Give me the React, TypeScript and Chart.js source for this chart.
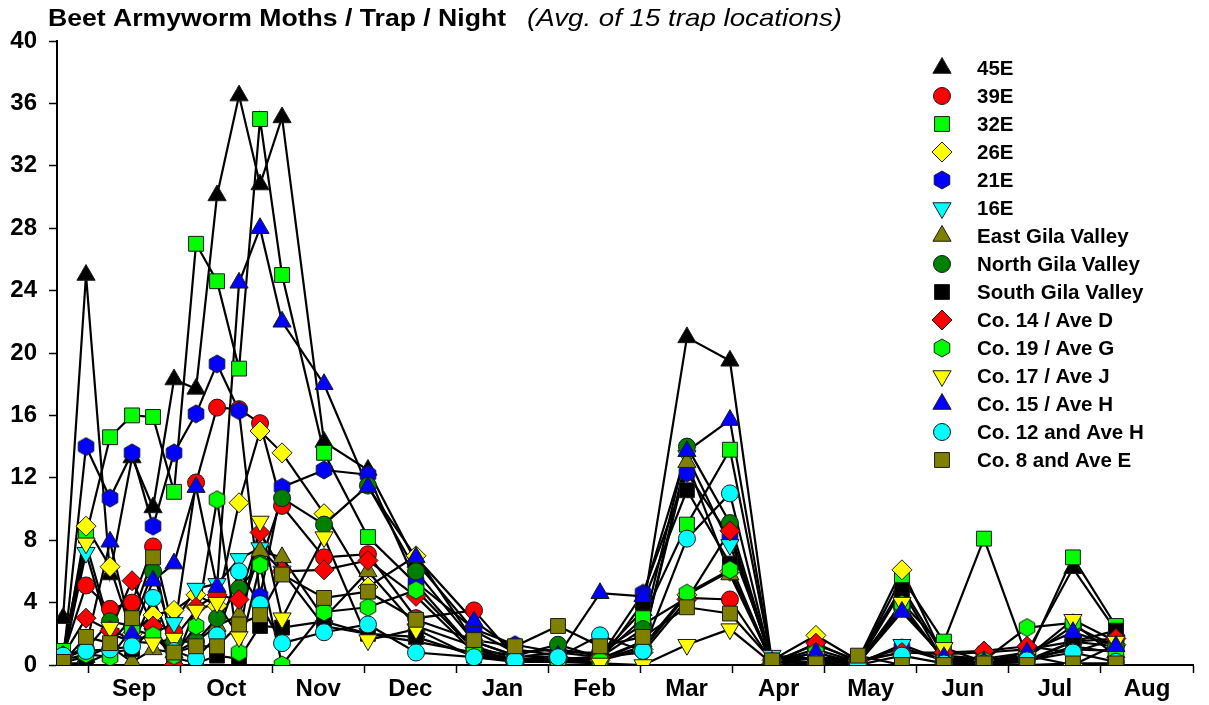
import React, { useEffect, useRef } from 'react';
import { Chart, registerables } from 'chart.js';
import { drawPoint } from 'chart.js/helpers';

Chart.register(...registerables);

// ---------------- data ----------------
const TITLE_MAIN = 'Beet Armyworm Moths / Trap / Night';
const TITLE_NOTE = '(Avg. of 15 trap locations)';

const MONTHS = ['Sep', 'Oct', 'Nov', 'Dec', 'Jan', 'Feb', 'Mar', 'Apr', 'May', 'Jun', 'Jul', 'Aug'];
const Y_MIN = 0;
const Y_MAX = 40;
const Y_STEP = 4;

// sample dates expressed in months after Sep 1 (each month = 1 unit)
const SAMPLE_X = [
  -0.271, -0.022, 0.239, 0.478, 0.706, 0.934, 1.173, 1.401, 1.64, 1.868,
  2.107, 2.563, 3.04, 3.562, 4.192, 4.637, 5.104, 5.56, 6.027, 6.504,
  6.971, 7.428, 7.905, 8.361, 8.839, 9.295, 9.73, 10.197, 10.696, 11.163,
];

const NAMES = [
  '45E', '39E', '32E', '26E', '21E', '16E', 'East Gila Valley', 'North Gila Valley',
  'South Gila Valley', 'Co. 14 / Ave D', 'Co. 19 / Ave G', 'Co. 17 / Ave J',
  'Co. 15 / Ave H', 'Co. 12 and Ave H', 'Co. 8 and Ave E',
];

const V_45E = [3.0, 25.0, 5.8, 13.3, 10.1, 18.3, 17.7, 30.1, 36.5, 30.8, 35.1, 14.3, 12.5, 6.6, 2.2, 0.8, 1.0, 0.6, 3.5, 21.0, 19.5, 0.2, 0.5, 0.3, 5.0, 0.6, 0.4, 0.8, 6.2, 2.2];
const V_39E = [0.6, 5.1, 3.6, 4.0, 7.6, 2.1, 11.7, 16.5, 16.4, 15.5, 10.2, 6.9, 7.1, 3.0, 3.5, 0.5, 0.8, 0.8, 2.6, 4.3, 4.2, 0.2, 1.3, 0.3, 0.8, 0.7, 0.8, 1.0, 1.5, 1.7];
const V_32E = [0.9, 8.3, 14.6, 16.0, 15.9, 11.1, 27.0, 24.6, 19.0, 35.0, 25.0, 13.6, 8.2, 5.2, 1.0, 0.6, 0.4, 0.5, 3.0, 9.0, 13.8, 0.2, 0.5, 0.2, 5.6, 1.5, 8.1, 0.5, 6.9, 2.5];
const V_26E = [0.4, 8.9, 6.3, 2.0, 3.2, 3.5, 4.5, 3.8, 10.4, 15.0, 13.6, 9.7, 5.0, 7.0, 1.5, 0.6, 0.5, 0.3, 1.0, 4.5, 6.0, 0.3, 1.9, 0.3, 6.1, 0.5, 0.3, 0.6, 0.0, 1.3];
const V_21E = [0.3, 14.0, 10.7, 13.6, 8.9, 13.6, 16.1, 19.3, 16.3, 4.4, 11.4, 12.5, 12.2, 5.3, 2.3, 1.3, 0.8, 0.5, 4.6, 12.3, 8.2, 0.2, 0.5, 0.2, 1.1, 0.3, 0.2, 0.3, 1.5, 1.2];
const V_16E = [0.3, 7.2, 2.0, 1.5, 2.0, 2.7, 4.9, 5.2, 6.8, 7.5, 6.0, 2.5, 2.0, 1.5, 0.8, 0.4, 0.3, 0.4, 1.5, 13.4, 7.7, 0.6, 0.4, 0.1, 1.3, 0.3, 0.2, 0.4, 1.0, 0.9];
const V_EGV = [0.2, 0.5, 1.2, 0.2, 1.0, 0.8, 1.5, 2.5, 3.2, 7.3, 6.9, 3.0, 6.0, 2.5, 1.2, 0.4, 0.3, 0.3, 1.5, 13.0, 5.8, 0.2, 0.4, 0.1, 3.6, 0.4, 0.1, 0.2, 1.2, 0.8];
const V_NGV = [0.4, 1.0, 2.8, 2.5, 6.0, 1.5, 1.5, 3.0, 4.9, 6.5, 10.7, 9.0, 11.5, 6.0, 1.5, 0.6, 1.3, 0.5, 2.3, 14.0, 9.1, 0.2, 1.0, 0.2, 3.7, 0.4, 0.3, 0.5, 2.5, 1.2];
const V_SGV = [0.1, 0.1, 0.8, 1.0, 2.4, 0.5, 0.1, 0.6, 0.4, 2.5, 2.4, 2.8, 2.0, 1.8, 0.6, 0.3, 0.2, 0.2, 4.0, 11.2, 6.5, 0.1, 0.2, 0.1, 4.8, 0.2, 0.1, 0.2, 1.5, 2.2];
const V_CO14 = [0.6, 3.0, 2.2, 5.4, 2.5, 0.0, 3.7, 4.5, 4.2, 8.5, 6.0, 6.1, 6.7, 4.4, 0.8, 0.2, 0.4, 0.5, 0.8, 4.2, 8.6, 0.1, 1.4, 0.2, 0.8, 0.8, 0.9, 1.2, 0.8, 1.7];
const V_CO19 = [0.3, 0.7, 0.5, 2.3, 1.9, 0.6, 2.5, 10.6, 0.8, 6.4, 0.0, 3.4, 3.7, 4.8, 1.0, 0.3, 0.3, 0.3, 1.2, 4.6, 6.1, 0.1, 0.8, 0.1, 3.9, 0.3, 0.3, 2.4, 2.7, 0.6];
const V_CO17 = [0.2, 7.8, 2.4, 1.5, 1.4, 1.7, 3.5, 4.0, 1.8, 9.2, 3.0, 8.2, 1.6, 2.3, 0.5, 0.2, 0.2, 0.1, 0.0, 1.3, 2.3, 0.1, 0.5, 0.1, 4.0, 1.1, 0.2, 0.5, 2.9, 1.5];
const V_CO15 = [0.4, 1.2, 7.9, 2.0, 5.4, 6.5, 11.4, 5.0, 24.5, 28.0, 22.0, 18.0, 11.4, 6.9, 2.8, 1.0, 0.6, 4.6, 4.4, 13.7, 15.7, 0.2, 0.8, 0.1, 3.4, 0.5, 0.2, 0.8, 2.1, 1.2];
const V_CO12 = [0.6, 0.9, 1.0, 1.2, 4.3, 0.9, 0.4, 1.9, 6.0, 3.9, 1.4, 2.1, 2.6, 0.8, 0.5, 0.3, 0.5, 1.9, 0.9, 8.1, 11.0, 0.0, 0.1, 0.0, 0.6, 0.1, 0.1, 0.3, 0.8, 0.2];
const V_CO8 = [0.2, 1.8, 1.4, 3.0, 6.9, 0.8, 1.2, 1.2, 2.6, 3.2, 5.8, 4.3, 4.7, 2.9, 1.6, 1.2, 2.5, 1.2, 1.8, 3.7, 3.3, 0.3, 0.1, 0.6, 0.0, 0.0, 0.1, 0.0, 0.1, 0.1];

const SERIES = [V_45E, V_39E, V_32E, V_26E, V_21E, V_16E, V_EGV, V_NGV, V_SGV, V_CO14, V_CO19, V_CO17, V_CO15, V_CO12, V_CO8];

// ---------------- styles ----------------
type MarkerStyle = { shape: string; color: string; r: number; rot?: number };
const MARKERS: MarkerStyle[] = [
  { shape: 'triangle', color: '#000000', r: 10.5 },
  { shape: 'circle', color: '#FF0000', r: 8.5 },
  { shape: 'rect', color: '#00FF00', r: 10.5 },
  { shape: 'rectRot', color: '#FFFF00', r: 10 },
  { shape: 'hex', color: '#0000FF', r: 9 },
  { shape: 'triangle', color: '#00FFFF', r: 10.5, rot: 180 },
  { shape: 'triangle', color: '#808000', r: 10.5 },
  { shape: 'circle', color: '#008000', r: 8.5 },
  { shape: 'rect', color: '#000000', r: 10.5 },
  { shape: 'rectRot', color: '#FF0000', r: 10 },
  { shape: 'hex', color: '#00FF00', r: 9 },
  { shape: 'triangle', color: '#FFFF00', r: 10.5, rot: 180 },
  { shape: 'triangle', color: '#0000FF', r: 10.5 },
  { shape: 'circle', color: '#00FFFF', r: 8.5 },
  { shape: 'rect', color: '#808000', r: 10.5 },
];

const FONT = '"Liberation Sans", Arial, Helvetica, sans-serif';

function makeHexagon(fill: string, r: number): HTMLCanvasElement {
  const c = document.createElement('canvas');
  const w = Math.ceil(r * 2 + 2);
  c.width = w;
  c.height = w;
  const ctx = c.getContext('2d') as CanvasRenderingContext2D;
  ctx.beginPath();
  for (let k = 0; k < 6; k++) {
    const a = -Math.PI / 2 + (k * Math.PI) / 3;
    const x = w / 2 + r * Math.cos(a);
    const y = w / 2 + r * Math.sin(a);
    if (k === 0) ctx.moveTo(x, y);
    else ctx.lineTo(x, y);
  }
  ctx.closePath();
  ctx.fillStyle = fill;
  ctx.fill();
  ctx.lineWidth = 1;
  ctx.strokeStyle = '#1a1a1a';
  ctx.stroke();
  return c;
}

function fitText(ctx: CanvasRenderingContext2D, text: string, font: string, x: number, y: number, width: number) {
  ctx.font = font;
  const w = ctx.measureText(text).width;
  ctx.save();
  ctx.translate(x, y);
  ctx.scale(width / w, 1);
  ctx.fillText(text, 0, 0);
  ctx.restore();
}

export default function App() {
  const ref = useRef<HTMLCanvasElement>(null);

  useEffect(() => {
    const canvas = ref.current as HTMLCanvasElement;
    const hexCache: Record<string, HTMLCanvasElement> = {};
    const styleFor = (m: MarkerStyle): any => {
      if (m.shape === 'hex') {
        if (!hexCache[m.color]) hexCache[m.color] = makeHexagon(m.color, m.r);
        return hexCache[m.color];
      }
      return m.shape;
    };

    const lineSets = SERIES.map((vals, i) => ({
      label: NAMES[i] + ' line',
      data: vals.map((v, j) => ({ x: SAMPLE_X[j], y: v })),
      borderColor: '#000000',
      borderWidth: 2.2,
      pointRadius: 0,
      pointHoverRadius: 0,
      showLine: true,
      fill: false,
      tension: 0,
      order: 100,
    }));

    const pointSets = SERIES.map((vals, i) => ({
      label: NAMES[i],
      data: vals.map((v, j) => ({ x: SAMPLE_X[j], y: v })),
      showLine: false,
      pointStyle: styleFor(MARKERS[i]),
      pointRadius: MARKERS[i].r,
      pointHoverRadius: MARKERS[i].r,
      pointRotation: MARKERS[i].rot || 0,
      pointBackgroundColor: MARKERS[i].color,
      pointBorderColor: '#1a1a1a',
      pointBorderWidth: 1,
      borderColor: '#000000',
      order: 15 - i,
    }));

    const monthTicks: number[] = [];
    for (let k = 0; k <= MONTHS.length; k++) monthTicks.push(k);
    for (let k = 0; k < MONTHS.length; k++) monthTicks.push(k + 0.5);
    monthTicks.sort((a, b) => a - b);

    const titlePlugin = {
      id: 'titleText',
      afterDraw(chart: any) {
        const ctx = chart.ctx as CanvasRenderingContext2D;
        ctx.save();
        ctx.fillStyle = '#000';
        ctx.textBaseline = 'alphabetic';
        ctx.textAlign = 'left';
        fitText(ctx, TITLE_MAIN, `bold 24px ${FONT}`, 48, 26, 458);
        fitText(ctx, TITLE_NOTE, `italic 24px ${FONT}`, 527, 26, 315);
        ctx.restore();
      },
    };

    const legendPlugin = {
      id: 'sideLegend',
      afterDraw(chart: any) {
        const ctx = chart.ctx as CanvasRenderingContext2D;
        ctx.save();
        NAMES.forEach((name, i) => {
          const y = 68 + i * 28;
          const m = MARKERS[i];
          ctx.fillStyle = m.color;
          ctx.strokeStyle = '#1a1a1a';
          ctx.lineWidth = 1;
          drawPoint(ctx, { pointStyle: styleFor(m), rotation: m.rot || 0, radius: m.r, borderWidth: 1 } as any, 942, y);
          ctx.fillStyle = '#000';
          ctx.font = `bold 20.5px ${FONT}`;
          ctx.textBaseline = 'middle';
          ctx.textAlign = 'left';
          ctx.fillText(name, 977, y + 1);
        });
        ctx.restore();
      },
    };

    const chart = new Chart(canvas, {
      type: 'line',
      data: { datasets: [...lineSets, ...pointSets] as any },
      options: {
        animation: false,
        responsive: false,
        maintainAspectRatio: false,
        layout: { padding: { top: 41, right: 16, bottom: 0, left: 0 } },
        plugins: {
          legend: { display: false },
          tooltip: { enabled: false },
          title: { display: false },
        },
        scales: {
          x: {
            type: 'linear',
            min: -0.337,
            max: 12,
            afterBuildTicks: (scale: any) => {
              scale.ticks = monthTicks.map((v) => ({ value: v }));
            },
            afterFit: (scale: any) => {
              scale.height = 40;
            },
            ticks: {
              autoSkip: false,
              maxRotation: 0,
              minRotation: 0,
              padding: 2,
              color: '#000',
              font: { family: FONT, size: 24, weight: 'bold' },
              callback: (value: any) => {
                const v = Number(value);
                if (Number.isInteger(v)) return '';
                return MONTHS[Math.floor(v)];
              },
            },
            grid: {
              drawOnChartArea: false,
              drawTicks: true,
              tickLength: 8,
              tickWidth: 1.5,
              tickColor: (c: any) => (c.tick && Number.isInteger(c.tick.value) ? '#000' : 'rgba(0,0,0,0)'),
            },
            border: { display: true, color: '#000', width: 2 },
          },
          y: {
            type: 'linear',
            min: Y_MIN,
            max: Y_MAX,
            afterFit: (scale: any) => {
              scale.width = 57;
            },
            ticks: {
              stepSize: Y_STEP,
              padding: 12,
              color: '#000',
              font: { family: FONT, size: 24, weight: 'bold' },
            },
            grid: {
              drawOnChartArea: false,
              drawTicks: true,
              tickLength: 8,
              tickWidth: 1.5,
              tickColor: '#000',
            },
            border: { display: true, color: '#000', width: 2 },
          },
        },
      } as any,
      plugins: [titlePlugin, legendPlugin],
    });

    return () => chart.destroy();
  }, []);

  return (
    <div style={{ position: 'fixed', left: 0, top: 0, width: 1209, height: 705, background: '#fff' }}>
      <canvas ref={ref} width={1209} height={705} style={{ display: 'block' }} />
    </div>
  );
}
